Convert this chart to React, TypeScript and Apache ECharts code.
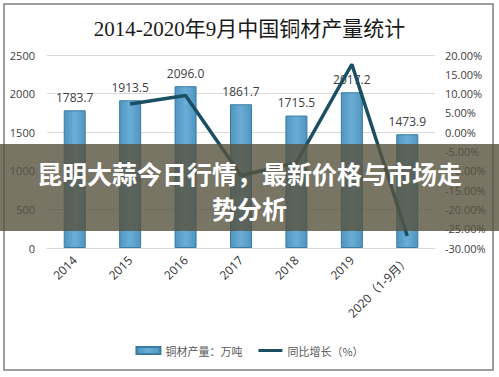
import React, { useEffect, useRef } from "react";
import * as echarts from "echarts";

const categories = ["2014", "2015", "2016", "2017", "2018", "2019", "2020（1-9月）"];
const output = [1783.7, 1913.5, 2096.0, 1861.7, 1715.5, 2017.2, 1473.9];
const growth: (number | null)[] = [null, 7.3, 9.5, -11.2, -7.9, 17.6, -26.9];
const titleText = "2014-2020年9月中国铜材产量统计";
const overlayLine1 = "昆明大蒜今日行情，最新价格与市场走";
const overlayLine2 = "势分析";
const seriesNames = ["铜材产量：万吨", "同比增长（%）"];

export default function App() {
  const ref = useRef<HTMLDivElement>(null);
  useEffect(() => {
    const chart = echarts.init(ref.current!, null, { renderer: "svg" });
    chart.setOption({
      animation: false,
      backgroundColor: "#ffffff",
      title: {
        text: titleText,
        left: "center",
        top: 13,
        textStyle: {
          fontFamily: "'Liberation Serif', 'Noto Sans CJK SC', serif",
          fontSize: 21,
          fontWeight: "normal",
          color: "#1a1a1a",
        },
      },
      grid: { left: 47, right: 64, top: 55, bottom: 129 },
      legend: {
        bottom: 16,
        left: "center",
        itemGap: 16,
        itemWidth: 24,
        itemHeight: 7,
        textStyle: { fontSize: 11, color: "#595959", fontFamily: "'Noto Sans CJK SC', sans-serif" },
        data: [
          { name: seriesNames[0], icon: "rect" },
          { name: seriesNames[1], icon: "path://M0,0 L8,0 L8,1 L0,1 Z" },
        ],
      },
      xAxis: {
        type: "category",
        data: categories,
        axisLine: { show: true, lineStyle: { color: "#d9d9d9" } },
        axisTick: { show: false },
        axisLabel: {
          rotate: 45,
          fontSize: 12,
          color: "#333333",
          margin: 10,
          fontFamily: "'Open Sans', 'Noto Sans CJK SC', sans-serif",
        },
      },
      yAxis: [
        {
          type: "value",
          min: 0,
          max: 2500,
          interval: 500,
          axisLine: { show: false },
          axisTick: { show: false },
          splitLine: { lineStyle: { color: "#d9d9d9" } },
          axisLabel: {
            fontSize: 11,
            color: "#404040",
            margin: 12,
            fontFamily: "'Open Sans', sans-serif",
            formatter: (v: number) => String(v),
          },
        },
        {
          type: "value",
          min: -30,
          max: 20,
          interval: 5,
          axisLine: { show: false },
          axisTick: { show: false },
          splitLine: { show: false },
          axisLabel: {
            fontSize: 11,
            color: "#404040",
            margin: 10,
            fontFamily: "'Open Sans', sans-serif",
            formatter: (v: number) => v.toFixed(2) + "%",
          },
        },
      ],
      series: [
        {
          name: seriesNames[0],
          type: "bar",
          data: output,
          barWidth: 22,
          itemStyle: {
            color: new echarts.graphic.LinearGradient(0, 0, 1, 0, [
              { offset: 0, color: "#4f95c0" },
              { offset: 0.5, color: "#6aaed6" },
              { offset: 1, color: "#4f95c0" },
            ]),
            borderColor: "#3a7aa3",
            borderWidth: 1,
          },
          label: {
            show: true,
            position: "top",
            distance: 7,
            fontSize: 12,
            color: "#404040",
            fontFamily: "'Open Sans', sans-serif",
            formatter: (p: any) => Number(p.value).toFixed(1),
          },
        },
        {
          name: seriesNames[1],
          type: "line",
          yAxisIndex: 1,
          data: growth,
          symbol: "none",
          lineStyle: { color: "#1b4f63", width: 3.5 },
          itemStyle: { color: "#1b4f63" },
        },
      ],
      graphic: [
        {
          type: "rect",
          shape: { x: 4, y: 4, width: 489, height: 366 },
          style: { fill: "none", stroke: "#7f7f7f", lineWidth: 1.5 },
          z: 100,
        },
        {
          type: "rect",
          shape: { x: 0, y: 144, width: 499, height: 87 },
          style: { fill: "rgba(88,83,62,0.8)" },
          z: 200,
        },
        {
          type: "text",
          x: 249.5,
          y: 173,
          style: {
            text: overlayLine1,
            fill: "#ffffff",
            fontSize: 25,
            fontWeight: "bold",
            fontFamily: "'Noto Sans CJK SC', sans-serif",
            textAlign: "center",
            textVerticalAlign: "middle",
          },
          z: 201,
        },
        {
          type: "text",
          x: 249.5,
          y: 208,
          style: {
            text: overlayLine2,
            fill: "#ffffff",
            fontSize: 25,
            fontWeight: "bold",
            fontFamily: "'Noto Sans CJK SC', sans-serif",
            textAlign: "center",
            textVerticalAlign: "middle",
          },
          z: 201,
        },
      ],
    });
    return () => chart.dispose();
  }, []);
  return <div ref={ref} style={{ width: 499, height: 377, position: "absolute", left: 0, top: 0 }} />;
}
